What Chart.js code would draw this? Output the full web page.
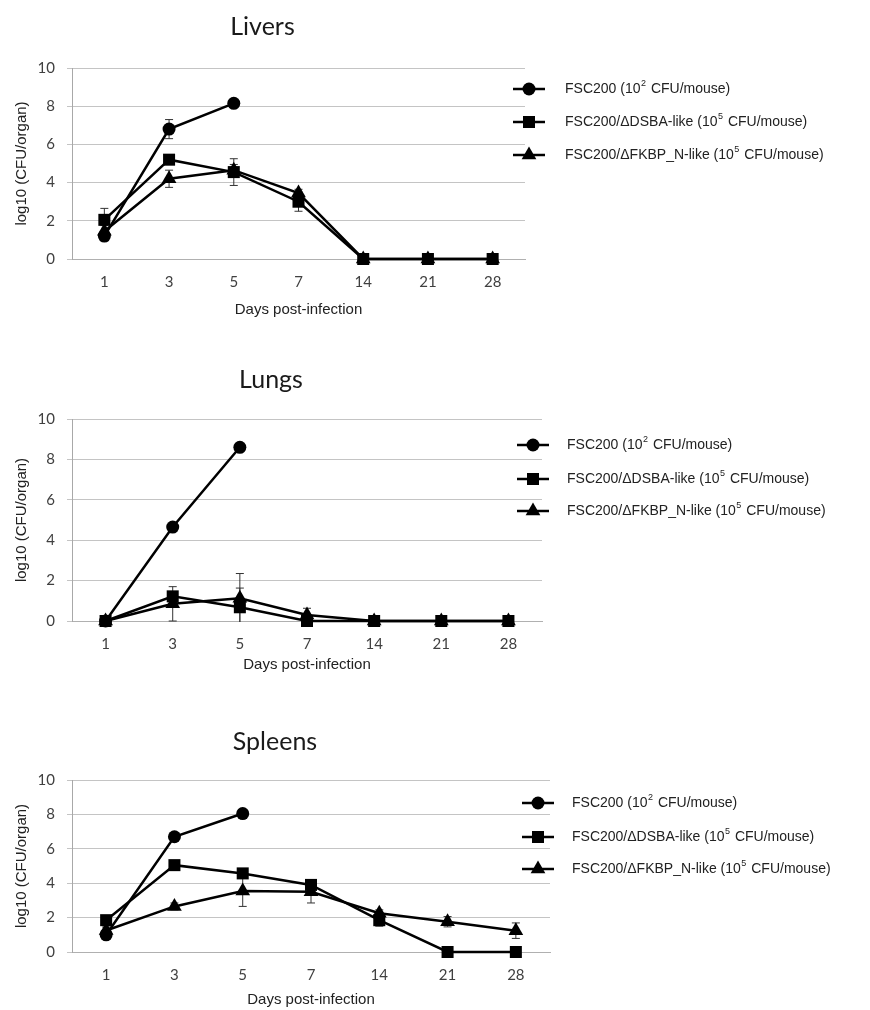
<!DOCTYPE html>
<html>
<head>
<meta charset="utf-8">
<script src="https://cdn.jsdelivr.net/npm/chart.js@4.4.1/dist/chart.umd.min.js"></script>
<style>
  body { margin: 0; background: #fff; width: 870px; height: 1010px; overflow: hidden; position: relative; }
  canvas { position: absolute; left: 0; }
</style>
</head>
<body>
<canvas id="livers" width="870" height="335" style="top:0;width:870px;height:335px"></canvas>
<canvas id="lungs" width="870" height="345" style="top:335px;width:870px;height:345px"></canvas>
<canvas id="spleens" width="870" height="330" style="top:680px;width:870px;height:330px"></canvas>
<script>
// x categories (days post-infection)
const days = ['1', '3', '5', '7', '14', '21', '28'];
const seriesNames = [
  'FSC200 (10\u00B2 CFU/mouse)',
  'FSC200/\u0394DSBA-like (10\u2075 CFU/mouse)',
  'FSC200/\u0394FKBP_N-like (10\u2075 CFU/mouse)'
];
const yMin = 0;
const yMax = 10;
const yStep = 2;

// livers, log10 CFU/organ and error
const liverWT = [1.2, 6.8, 8.15, null, null, null, null];
const liverWTErr = [0.25, 0.5, 0, 0, 0, 0, 0];
const liverDSBA = [2.05, 5.2, 4.55, 3.0, 0, 0, 0];
const liverDSBAErr = [0.6, 0.15, 0.7, 0.5, 0, 0, 0];
const liverFKBP = [1.45, 4.2, 4.65, 3.45, 0, 0, 0];
const liverFKBPErr = [0.3, 0.45, 0.3, 0.2, 0, 0, 0];

// lungs
const lungWT = [0, 4.65, 8.6, null, null, null, null];
const lungWTErr = [0, 0, 0, 0, 0, 0, 0];
const lungDSBA = [0, 1.22, 0.68, 0, 0, 0, 0];
const lungDSBAErr = [0, 0.2, 0.95, 0, 0, 0, 0];
const lungFKBP = [0, 0.85, 1.13, 0.3, 0, 0, 0];
const lungFKBPErr = [0, 0.85, 1.22, 0.33, 0, 0, 0];

// spleens
const spleenWT = [1.0, 6.7, 8.05, null, null, null, null];
const spleenWTErr = [0.15, 0.1, 0.1, 0, 0, 0, 0];
const spleenDSBA = [1.85, 5.05, 4.57, 3.9, 1.85, 0, 0];
const spleenDSBAErr = [0.2, 0.15, 0.15, 0.3, 0.35, 0, 0];
const spleenFKBP = [1.25, 2.65, 3.55, 3.5, 2.25, 1.76, 1.24];
const spleenFKBPErr = [0.2, 0.2, 0.9, 0.65, 0.2, 0.3, 0.45];

const MARKERS = [
  { style: 'circle', radius: 6.5 },
  { style: 'rect', radius: 8.5 },
  { style: 'triangle', radius: 8.5 }
];
const SUPERSCRIPTS = { '\u00B2': '2', '\u2075': '5' };
const LEGEND_FONT = '"Liberation Sans", Arial, sans-serif';

function drawMarker(ctx, style, r, x, y) {
  ctx.beginPath();
  if (style === 'circle') {
    ctx.arc(x, y, r, 0, Math.PI * 2);
  } else if (style === 'rect') {
    const s = r * Math.SQRT1_2;
    ctx.rect(x - s, y - s, 2 * s, 2 * s);
  } else {
    ctx.moveTo(x, y - r);
    ctx.lineTo(x + 0.866 * r, y + 0.5 * r);
    ctx.lineTo(x - 0.866 * r, y + 0.5 * r);
    ctx.closePath();
  }
  ctx.fill();
}

// legend text with small raised exponents
function drawLabel(ctx, text, x, y) {
  let cx = x;
  let run = '';
  const flush = () => {
    if (!run) return;
    ctx.font = '14px ' + LEGEND_FONT;
    ctx.fillText(run, cx, y);
    cx += ctx.measureText(run).width;
    run = '';
  };
  for (const ch of text) {
    if (SUPERSCRIPTS[ch]) {
      flush();
      ctx.font = '9px ' + LEGEND_FONT;
      ctx.fillText(SUPERSCRIPTS[ch], cx + 0.5, y - 5);
      cx += ctx.measureText(SUPERSCRIPTS[ch]).width + 1.5;
    } else {
      run += ch;
    }
  }
  flush();
}

const errorBars = {
  id: 'errorBars',
  beforeDatasetsDraw(chart) {
    const { ctx, chartArea, scales } = chart;
    ctx.save();
    ctx.beginPath();
    ctx.rect(chartArea.left, chartArea.top, chartArea.width, chartArea.height + 1);
    ctx.clip();
    ctx.strokeStyle = '#333';
    ctx.lineWidth = 1;
    chart.data.datasets.forEach((ds, i) => {
      const meta = chart.getDatasetMeta(i);
      meta.data.forEach((pt, j) => {
        const v = ds.data[j];
        const e = ds.errors[j];
        if (v == null || !e) return;
        const x = pt.x;
        const lo = scales.y.getPixelForValue(v - e);
        const hi = scales.y.getPixelForValue(v + e);
        ctx.beginPath();
        ctx.moveTo(x, lo); ctx.lineTo(x, hi);
        ctx.moveTo(x - 4, lo); ctx.lineTo(x + 4, lo);
        ctx.moveTo(x - 4, hi); ctx.lineTo(x + 4, hi);
        ctx.stroke();
      });
    });
    ctx.restore();
  }
};

const sideLegend = {
  id: 'sideLegend',
  afterDraw(chart, args, opts) {
    const { ctx } = chart;
    ctx.save();
    chart.data.datasets.forEach((ds, i) => {
      const y = opts.ys[i];
      const x0 = opts.x;
      const x1 = opts.x + 32;
      ctx.strokeStyle = '#000';
      ctx.fillStyle = '#000';
      ctx.lineWidth = 2.5;
      ctx.beginPath();
      ctx.moveTo(x0, y);
      ctx.lineTo(x1, y);
      ctx.stroke();
      drawMarker(ctx, MARKERS[i].style, MARKERS[i].radius, (x0 + x1) / 2, y);
      ctx.fillStyle = '#222';
      ctx.textBaseline = 'middle';
      drawLabel(ctx, ds.label, opts.textX, y);
    });
    ctx.restore();
  }
};

function makePanel(id, p, series, errors) {
  const titleSize = 25;
  const titleLine = titleSize * 1.2;
  new Chart(document.getElementById(id), {
    type: 'line',
    data: {
      labels: days,
      datasets: series.map((values, i) => ({
        label: seriesNames[i],
        data: values,
        errors: errors[i],
        borderColor: '#000',
        backgroundColor: '#000',
        borderWidth: 2.5,
        pointStyle: MARKERS[i].style,
        pointRadius: MARKERS[i].radius,
        pointBorderWidth: 0,
        pointBackgroundColor: '#000',
        tension: 0,
        spanGaps: false,
        clip: false
      }))
    },
    options: {
      responsive: false,
      animation: false,
      layout: { padding: { left: 0, top: 0, bottom: 0, right: 870 - p.right } },
      plugins: {
        legend: { display: false },
        tooltip: { enabled: false },
        title: {
          display: true,
          text: p.title,
          color: '#1a1a1a',
          font: { family: 'Lato, "Open Sans", sans-serif', size: titleSize, weight: 'normal' },
          padding: { top: p.titleY - titleLine / 2, bottom: p.top - p.titleY - titleLine / 2 }
        },
        sideLegend: { x: p.legendX, textX: p.textX, ys: p.legendYs }
      },
      scales: {
        x: {
          offset: true,
          grid: { display: false, drawTicks: false, offset: true },
          border: { display: true, color: '#b0b0b0' },
          ticks: { color: '#404040', padding: 14, font: { family: 'Lato, sans-serif', size: 15 } },
          title: {
            display: true,
            text: 'Days post-infection',
            color: '#222',
            font: { family: '"Liberation Sans", Arial, sans-serif', size: 15 },
            padding: { top: 0, bottom: p.height - p.xTitleY - 9 }
          },
          afterFit(scale) { scale.height = p.height - p.bottom; }
        },
        y: {
          min: yMin,
          max: yMax,
          ticks: { stepSize: yStep, color: '#404040', padding: 12, font: { family: 'Lato, sans-serif', size: 15 } },
          grid: { color: '#c4c4c4', lineWidth: 1, tickLength: 5 },
          border: { display: true, color: '#a8a8a8' },
          title: {
            display: true,
            text: 'log10 (CFU/organ)',
            color: '#222',
            font: { family: '"Liberation Sans", Arial, sans-serif', size: 15 },
            padding: { top: 13, bottom: 0 }
          },
          afterFit(scale) { scale.width = 72; }
        }
      }
    },
    plugins: [errorBars, sideLegend]
  });
}

makePanel('livers', {
  title: 'Livers', titleY: 27, top: 68, bottom: 259, right: 525, height: 335,
  xTitleY: 310, legendX: 513, textX: 565, legendYs: [89, 122, 155]
}, [liverWT, liverDSBA, liverFKBP], [liverWTErr, liverDSBAErr, liverFKBPErr]);

makePanel('lungs', {
  title: 'Lungs', titleY: 45, top: 84, bottom: 286, right: 542, height: 345,
  xTitleY: 330, legendX: 517, textX: 567, legendYs: [110, 144, 176]
}, [lungWT, lungDSBA, lungFKBP], [lungWTErr, lungDSBAErr, lungFKBPErr]);

makePanel('spleens', {
  title: 'Spleens', titleY: 62, top: 100, bottom: 272, right: 550, height: 330,
  xTitleY: 320, legendX: 522, textX: 572, legendYs: [123, 157, 189]
}, [spleenWT, spleenDSBA, spleenFKBP], [spleenWTErr, spleenDSBAErr, spleenFKBPErr]);
</script>
</body>
</html>
